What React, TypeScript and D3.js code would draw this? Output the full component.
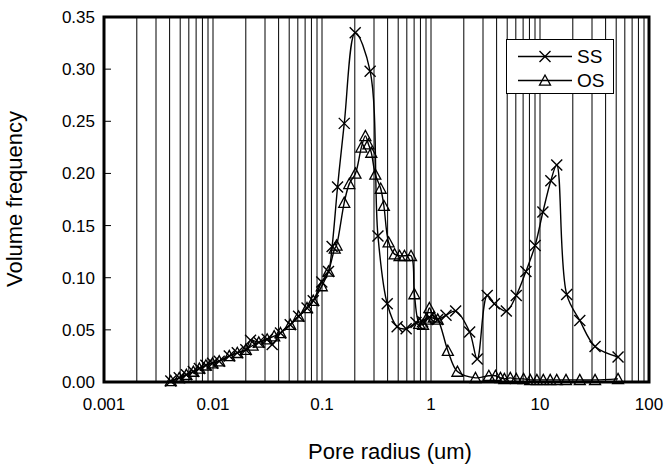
import React from "react";
import * as d3 from "d3";

const ssX = [0.0041, 0.0049, 0.0057, 0.0066, 0.0075, 0.0086, 0.0099, 0.0114, 0.0141, 0.0167, 0.02, 0.0221, 0.0263, 0.0314, 0.0349, 0.0416, 0.0511, 0.061, 0.0729, 0.0831, 0.0995, 0.1147, 0.1238, 0.1389, 0.16, 0.2017, 0.2764, 0.3261, 0.3967, 0.4889, 0.5916, 0.7284, 0.8363, 0.9667, 1.152, 1.373, 1.683, 2.262, 2.656, 3.278, 3.815, 4.912, 6.057, 7.425, 9.022, 10.63, 12.57, 14.24, 17.57, 23.17, 32.0, 52.0];
const ssY = [0.001, 0.004, 0.007, 0.01, 0.013, 0.016, 0.018, 0.02, 0.025, 0.028, 0.031, 0.04, 0.038, 0.041, 0.036, 0.047, 0.055, 0.063, 0.071, 0.078, 0.096, 0.106, 0.13, 0.187, 0.248, 0.335, 0.298, 0.14, 0.075, 0.053, 0.051, 0.057, 0.058, 0.062, 0.06, 0.064, 0.068, 0.048, 0.022, 0.083, 0.075, 0.068, 0.083, 0.106, 0.131, 0.163, 0.193, 0.208, 0.084, 0.059, 0.034, 0.024];

const osX = [0.0041, 0.0049, 0.0057, 0.0066, 0.0075, 0.0086, 0.0099, 0.0114, 0.0141, 0.0167, 0.02, 0.0231, 0.0263, 0.0314, 0.0364, 0.0416, 0.0511, 0.061, 0.0729, 0.0831, 0.0995, 0.1147, 0.1309, 0.1359, 0.16, 0.1779, 0.2027, 0.2298, 0.25, 0.2667, 0.2833, 0.3085, 0.3454, 0.3694, 0.4082, 0.463, 0.5145, 0.5705, 0.6558, 0.7038, 0.7801, 0.8455, 0.9016, 0.9667, 1.059, 1.152, 1.428, 1.747, 2.557, 3.393, 3.903, 4.335, 4.711, 5.339, 6.057, 7.066, 8.126, 9.361, 10.72, 12.4, 14.24, 17.32, 23.17, 32.0, 52.0];
const osY = [0.001, 0.004, 0.007, 0.01, 0.013, 0.016, 0.018, 0.02, 0.025, 0.028, 0.031, 0.035, 0.038, 0.041, 0.044, 0.047, 0.055, 0.063, 0.071, 0.078, 0.092, 0.106, 0.128, 0.131, 0.172, 0.19, 0.2, 0.225, 0.236, 0.228, 0.22, 0.199, 0.1855, 0.169, 0.134, 0.1226, 0.121, 0.121, 0.121, 0.0843, 0.056, 0.055, 0.06, 0.071, 0.062, 0.06, 0.03, 0.01, 0.004, 0.006, 0.006, 0.004, 0.003, 0.004, 0.003, 0.003, 0.002, 0.002, 0.002, 0.002, 0.002, 0.002, 0.002, 0.002, 0.003];

const yTicks = [0, 0.05, 0.1, 0.15, 0.2, 0.25, 0.3, 0.35];
const xTicks = [0.001, 0.01, 0.1, 1, 10, 100];
const xTickLabels = ["0.001", "0.01", "0.1", "1", "10", "100"];
const seriesNames = ["SS", "OS"];

const L = 104, R = 649, T = 17, B = 382;
const FONT = "'Liberation Sans', Arial, sans-serif";

export default function App() {
  const x = d3.scaleLog().domain([0.001, 100]).range([L, R]);
  const y = d3.scaleLinear().domain([0, 0.35]).range([B, T]);

  const minor: number[] = [];
  for (let e = -3; e < 2; e++) {
    for (let k = 1; k <= 9; k++) {
      const v = k * Math.pow(10, e);
      if (v > 0.001 && v < 100) minor.push(v);
    }
  }

  const line = d3
    .line<[number, number]>()
    .x((d) => x(d[0]))
    .y((d) => y(d[1]))
    .curve(d3.curveCatmullRom.alpha(0.5));

  const ss: [number, number][] = ssX.map((v, i) => [v, ssY[i]]);
  const os: [number, number][] = osX.map((v, i) => [v, osY[i]]);

  const cross = (cx: number, cy: number, k: string) => {
    const s = 5.5;
    return (
      <path
        key={k}
        d={`M${cx - s},${cy - s}L${cx + s},${cy + s}M${cx - s},${cy + s}L${cx + s},${cy - s}`}
        stroke="#000"
        strokeWidth={1.4}
        fill="none"
      />
    );
  };
  const tri = (cx: number, cy: number, k: string) => {
    const s = 5.5;
    return (
      <path
        key={k}
        d={`M${cx},${cy - s}L${cx + s},${cy + s * 0.85}L${cx - s},${cy + s * 0.85}Z`}
        stroke="#000"
        strokeWidth={1.3}
        fill="none"
      />
    );
  };

  return (
    <svg width={664} height={466} style={{ display: "block", position: "absolute", left: 0, top: 0 }}>
      <rect x={0} y={0} width={664} height={466} fill="#fff" />
      {minor.map((v, i) => (
        <line key={"g" + i} x1={x(v)} x2={x(v)} y1={T} y2={B} stroke="#000" strokeWidth={1} />
      ))}
      {yTicks.map((t, i) => (
        <g key={"yt" + i}>
          <line x1={L} x2={L + 7} y1={y(t)} y2={y(t)} stroke="#000" strokeWidth={1} />
          <text x={95} y={y(t)} dy="0.35em" textAnchor="end" fontFamily={FONT} fontSize={17}>
            {t.toFixed(2)}
          </text>
        </g>
      ))}
      {xTicks.map((t, i) => (
        <text key={"xt" + i} x={x(t)} y={410} textAnchor="middle" fontFamily={FONT} fontSize={17}>
          {xTickLabels[i]}
        </text>
      ))}
      <path d={line(ss) || ""} stroke="#000" strokeWidth={1.4} fill="none" />
      <path d={line(os) || ""} stroke="#000" strokeWidth={1.4} fill="none" />
      {ss.map((d, i) => cross(x(d[0]), y(d[1]), "s" + i))}
      {os.map((d, i) => tri(x(d[0]), y(d[1]), "o" + i))}
      <rect x={L} y={T} width={R - L} height={B - T} fill="none" stroke="#000" strokeWidth={3} />
      <g>
        <rect x={506.5} y={39.5} width={107} height={54} fill="#fff" stroke="#000" strokeWidth={1} />
        <line x1={518} x2={572} y1={56.5} y2={56.5} stroke="#000" strokeWidth={1.4} />
        {cross(545, 56.5, "ls")}
        <text x={577} y={56.5} dy="0.35em" fontFamily={FONT} fontSize={19}>{seriesNames[0]}</text>
        <line x1={518} x2={572} y1={80.5} y2={80.5} stroke="#000" strokeWidth={1.4} />
        {tri(545, 80.5, "lo")}
        <text x={577} y={80.5} dy="0.35em" fontFamily={FONT} fontSize={19}>{seriesNames[1]}</text>
      </g>
      <text x={390} y={459} textAnchor="middle" fontFamily={FONT} fontSize={22}>
        Pore radius (um)
      </text>
      <text
        transform={`translate(22,199) rotate(-90)`}
        textAnchor="middle"
        fontFamily={FONT}
        fontSize={22}
      >
        Volume frequency
      </text>
    </svg>
  );
}
